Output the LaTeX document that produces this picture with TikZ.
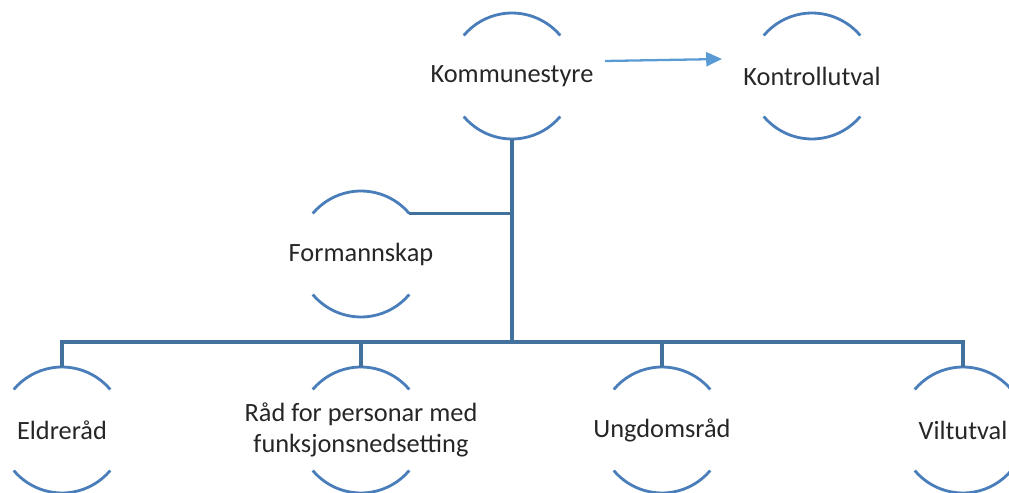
\documentclass[tikz,border=0pt]{standalone}
\usepackage{fontspec}
\setmainfont{Carlito}
\usetikzlibrary{arrows.meta}
\definecolor{arccol}{RGB}{74,126,187}
\definecolor{linecol}{RGB}{65,113,156}
\definecolor{arrcol}{RGB}{91,155,213}
\tikzset{
  lbl/.style={inner sep=0pt, align=center, text=black!85, font=\fontsize{15}{17.5}\selectfont},
  arcs/.style={draw=arccol, line width=1.6pt},
  conn/.style={draw=linecol, line width=1.8pt},
  arr/.style={draw=arrcol, line width=1.3pt, -{Triangle[length=9pt,width=8pt]}}
}
\newcommand{\halfarcs}[1]{%
  \draw[arcs] ([shift={(40:1.26cm)}]#1.center) arc[start angle=40,end angle=140,radius=1.26cm];
  \draw[arcs] ([shift={(220:1.26cm)}]#1.center) arc[start angle=220,end angle=320,radius=1.26cm];
}
\begin{document}
\begin{tikzpicture}[x=0.02cm,y=-0.02cm]
\useasboundingbox (0,0) rectangle (1009,493);
\node[lbl] (k) at (512,76) {Kommunestyre};
\node[lbl] (ko) at (812,76) {Kontrollutval};
\node[lbl] (fo) at (361,254) {Formannskap};
\node[lbl] (el) at (62,430) {Eldreråd};
\node[lbl] (ra) at (361,430) {Råd for personar med\\funksjonsnedsetting};
\node[lbl] (un) at (662,430) {Ungdomsråd};
\node[lbl] (vi) at (963,430) {Viltutval};
\foreach \n in {k,ko,fo,el,ra,un,vi}{\halfarcs{\n}}
\coordinate (bus) at (512,342);
\coordinate (fotop) at ([shift={(40:1.26cm)}]fo.center);
\coordinate (a1) at (605,61);
\coordinate (a2) at (722,59);
% connectors
\draw[conn] ([yshift=-1.26cm]k.center) -- (k.center |- bus);
\draw[conn] (fotop) -- (fotop -| k.center);
\draw[conn] ([yshift=1.26cm]el.center) -- (el.center |- bus) -- (vi.center |- bus) -- ([yshift=1.26cm]vi.center);
\draw[conn] ([yshift=1.26cm]ra.center) -- (ra.center |- bus);
\draw[conn] ([yshift=1.26cm]un.center) -- (un.center |- bus);
\draw[arr] (a1) -- (a2);
\end{tikzpicture}
\end{document}
